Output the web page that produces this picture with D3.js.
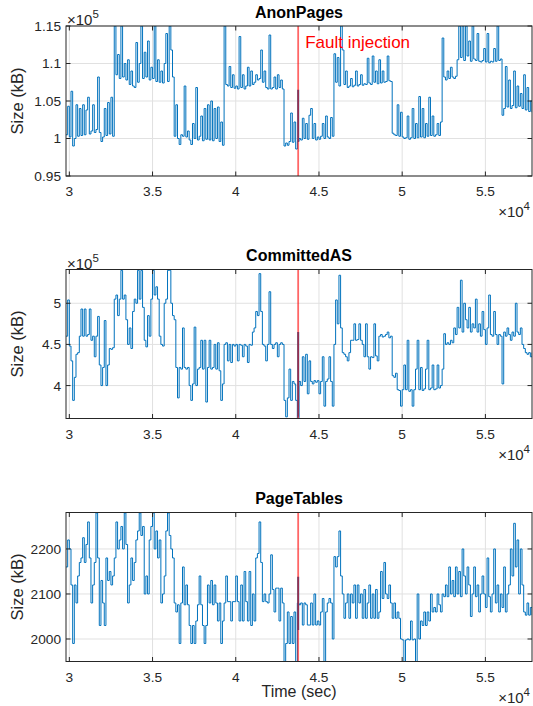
<!DOCTYPE html>
<html>
<head>
<meta charset="utf-8">
<script src="https://cdn.jsdelivr.net/npm/d3@7"></script>
<style>
  body { margin: 0; background: #fff; }
  svg { display: block; font-family: "Liberation Sans", Arial, Helvetica, sans-serif; }
</style>
</head>
<body>
<svg id="chart" width="533" height="706"></svg>
<script>
// ---------------- data ----------------
const tStart = 29800;          // first sample time (sec)
const tStep = 100;             // sample spacing (sec)
const faultTime = 43750;       // fault injection time (sec)

const xTicks = [30000, 35000, 40000, 45000, 50000, 55000];
const xTickLabels = ["3", "3.5", "4", "4.5", "5", "5.5"];

// AnonPages, in units of 10^5 kB
const anonPages = [
  1.005,1.043,1.002,1.063,0.990,1.000,1.045,1.003,1.040,1.004,
  1.045,1.005,1.038,1.055,1.006,1.010,1.045,1.008,1.012,1.082,
  1.008,0.996,1.002,1.040,1.004,1.048,1.006,1.055,1.003,
  1.150,1.085,1.112,1.080,1.150,1.082,1.100,1.078,1.105,1.072,
  1.090,1.070,1.068,1.128,1.075,1.100,1.150,1.080,1.115,1.082,
  1.130,1.078,1.095,1.080,1.150,1.076,1.105,1.075,1.090,1.074,
  1.100,1.140,1.076,1.150,1.118,1.082,
  1.003,1.045,1.000,0.992,1.005,1.003,1.070,1.002,1.010,0.998,
  0.992,1.020,1.000,1.068,0.998,1.003,1.030,0.997,1.040,0.999,
  1.045,0.998,1.050,0.997,1.040,1.000,1.042,0.996,1.022,0.991,
  1.150,1.072,1.070,1.096,1.068,1.085,1.067,1.070,1.066,1.136,
  1.068,1.085,1.066,1.070,1.095,1.070,1.090,1.072,1.075,1.085,
  1.078,1.080,1.118,1.075,1.090,1.068,1.066,1.138,
  1.066,1.068,1.082,1.066,1.085,1.068,1.078,1.066,
  0.990,0.994,0.991,0.996,1.034,0.995,1.022,0.986,0.996,1.000,
  0.998,1.027,1.000,1.020,0.999,1.031,1.040,1.000,1.020,0.998,
  1.002,0.999,1.003,1.020,1.000,1.030,1.002,1.000,1.028,1.003,
  1.113,1.075,1.108,1.070,1.150,1.118,1.072,1.090,1.068,1.070,
  1.080,1.069,1.071,1.090,1.070,1.072,1.085,1.071,1.073,1.072,
  1.107,1.074,1.072,1.110,1.075,1.090,1.073,1.105,1.074,1.090,
  1.075,1.076,1.110,1.077,1.076,
  1.007,1.005,1.004,1.045,1.003,1.035,1.002,1.000,1.001,1.030,
  0.999,1.001,1.040,1.000,1.020,1.001,1.056,1.002,1.040,1.001,
  1.020,1.003,1.055,1.004,1.030,1.003,1.005,1.020,1.004,1.022,1.134,
  1.082,1.078,1.090,1.080,1.095,1.082,1.080,1.083,1.105,1.150,
  1.108,1.150,1.104,1.150,1.110,1.130,1.103,1.150,1.106,1.104,
  1.140,1.103,1.102,1.104,1.120,1.102,1.140,1.101,1.103,1.102,
  1.120,1.103,1.150,1.104,1.106,
  1.031,1.040,1.096,1.042,1.078,1.040,1.044,1.090,1.041,1.070,
  1.043,1.060,1.040,1.085,1.038,1.068,1.036,1.050,1.035
];

// CommittedAS, in units of 10^5 kB
const committedAS = [
  4.60,5.04,4.48,4.30,3.82,4.10,4.38,4.40,4.60,4.93,
  4.60,4.93,4.60,4.62,4.93,4.55,4.60,4.35,4.60,4.84,
  4.25,4.00,4.22,4.79,4.00,4.25,4.45,4.44,4.46,
  5.05,5.10,4.85,5.05,5.40,5.05,5.10,4.80,4.50,4.70,
  4.45,4.90,5.05,5.00,5.40,5.05,5.40,4.95,4.55,4.47,
  4.85,4.60,5.05,5.40,5.10,5.20,5.05,4.60,4.50,4.48,
  5.00,5.05,5.40,5.40,5.00,4.85,4.80,
  4.22,3.85,4.22,4.20,4.70,4.22,4.20,4.22,4.00,3.82,
  4.02,4.71,4.00,4.20,4.22,4.55,4.20,4.55,3.80,4.22,
  4.55,4.20,4.22,4.50,4.20,4.52,4.18,3.82,4.02,
  4.50,4.52,4.30,4.50,4.28,4.50,4.48,4.50,4.30,4.50,
  4.49,4.35,4.50,4.48,4.28,4.50,4.49,4.65,4.70,4.90,
  4.85,5.36,4.90,4.50,4.48,4.30,4.50,5.14,
  4.50,4.45,4.50,4.52,4.35,4.50,4.52,4.50,
  3.82,3.62,3.85,4.20,3.82,4.05,4.02,3.82,3.60,4.05,
  4.00,4.35,4.05,4.38,3.90,4.30,4.05,4.02,4.06,4.04,
  4.06,3.90,4.05,4.35,3.75,4.05,4.08,4.35,4.05,3.75,
  4.50,5.04,4.75,5.34,4.70,4.40,4.38,4.35,4.30,4.40,
  4.55,4.55,4.75,4.55,4.56,4.75,4.55,4.50,4.35,4.75,
  4.35,4.20,4.35,4.34,4.75,4.36,4.30,4.60,4.62,4.59,
  4.60,4.62,4.65,4.58,4.60,
  4.12,4.10,4.15,3.95,3.94,3.75,3.95,4.25,3.95,4.55,
  3.93,3.95,3.75,3.95,4.20,4.55,3.95,4.22,3.94,3.96,
  4.20,4.55,3.95,3.97,4.25,3.95,3.96,4.25,3.97,4.00,4.20,
  4.63,4.50,4.52,4.50,4.55,4.52,4.70,4.62,4.95,4.70,
  5.28,4.65,5.00,4.80,4.70,4.95,4.65,4.75,4.70,5.05,
  4.65,4.75,4.60,4.90,4.68,4.50,4.70,5.10,4.62,4.60,
  4.90,4.62,4.50,4.62,4.60,
  4.02,4.65,4.60,4.70,4.62,4.55,4.65,4.60,5.00,4.65,
  4.62,4.70,4.50,4.45,4.40,4.38,4.40,4.35,4.40
];

// PageTables, in kB
const pageTables = [
  2160,2220,2200,2120,1990,2120,2080,2140,2170,2180,
  2225,2170,2210,2260,2180,2080,2120,2170,2280,2180,
  2030,2130,2080,2030,2180,2130,2150,2120,2140,2180,
  2260,2200,2220,2250,2200,2280,2210,2080,2120,2180,
  2130,2170,2220,2240,2280,2230,2250,2100,2140,2100,
  2220,2250,2280,2200,2240,2180,2220,2080,2100,2140,
  2240,2280,2230,2200,2180,2080,2060,2076,1990,2080,
  2160,2076,2120,2076,2030,1990,2030,1990,2040,2076,
  2140,2076,2030,1990,2030,2120,2080,2130,2076,2120,
  2080,2040,2080,1990,2040,2080,2140,2083,2083,2040,
  2083,2083,2140,2083,2040,2120,2040,2150,2083,2040,
  2150,2030,2100,2040,2180,2190,2260,2170,2083,2100,
  2083,2080,2100,
  2187,2110,2060,2113,2113,2040,2113,2080,
  1950,1990,2060,1990,2050,1990,2060,1950,2080,2076,
  2080,2031,2080,2076,2031,2031,2080,2031,2100,2031,
  2040,2031,2060,2090,1950,2060,2080,2090,2080,2000,
  2183,2160,2183,2240,2140,2100,2046,2080,2100,2046,
  2100,2080,2120,2046,2120,2080,2100,2046,2110,2046,
  2080,2120,2046,2100,2046,2110,2046,2060,2150,2090,
  2170,2100,2090,2120,2080,2046,2080,2046,2060,2046,
  2000,1998,1950,1998,2000,1998,2040,1998,2000,1950,
  2100,2000,2040,2030,2060,2030,2060,2040,2100,2060,
  2070,2060,2100,2076,2060,2100,2094,2120,2094,2160,
  2100,2130,2094,2160,2100,2150,2094,2200,2140,2100,
  2160,2120,2050,2100,2160,2094,2120,2060,2100,2140,
  2100,2070,2180,2094,2060,2100,2200,2080,2120,2060,
  2100,2070,2160,2060,2100,2120,2200,2140,2257,2160,
  2220,2100,2200,2120,2060,2053,2080,2053,2070,2053
];

const anonTicks = [0.95, 1, 1.05, 1.1, 1.15];
const anonTickLabels = ["0.95", "1", "1.05", "1.1", "1.15"];
const committedTicks = [4, 4.5, 5];
const committedTickLabels = ["4", "4.5", "5"];
const pageTicks = [2000, 2100, 2200];
const pageTickLabels = ["2000", "2100", "2200"];

// vertical extent of the trace drawn at the fault instant
const anonFaultSpan = [0.996, 1.065];
const committedFaultSpan = [3.62, 4.65];
const pageFaultSpan = [2020, 2138];

// ---------------- layout ----------------
const svg = d3.select("#chart");
const left = 66, right = 532;
const blue = "#0072BD", ink = "#262626";

const panels = [
  { title: "AnonPages", values: anonPages, domain: [0.95, 1.15], ticks: anonTicks,
    labels: anonTickLabels, exp: "5", fault: anonFaultSpan, top: 26, bottom: 176, note: true },
  { title: "CommittedAS", values: committedAS, domain: [3.6, 5.41], ticks: committedTicks,
    labels: committedTickLabels, exp: "5", fault: committedFaultSpan, top: 269.5, bottom: 418.5 },
  { title: "PageTables", values: pageTables, domain: [1950, 2281], ticks: pageTicks,
    labels: pageTickLabels, exp: null, fault: pageFaultSpan, top: 512.5, bottom: 661.5, xlabel: true }
];

const x = d3.scaleLinear().domain([tStart, tStart + (anonPages.length - 1) * tStep]).range([left, right]);

panels.forEach((p, k) => {
  const y = d3.scaleLinear().domain(p.domain).range([p.bottom, p.top]);
  const g = svg.append("g");

  // grid
  g.append("g").selectAll("line").data(xTicks).join("line")
    .attr("x1", d => x(d)).attr("x2", d => x(d))
    .attr("y1", p.top).attr("y2", p.bottom)
    .attr("stroke", "#e1e1e1").attr("stroke-width", 1);
  g.append("g").selectAll("line").data(p.ticks).join("line")
    .attr("x1", left).attr("x2", right)
    .attr("y1", d => y(d)).attr("y2", d => y(d))
    .attr("stroke", "#e1e1e1").attr("stroke-width", 1);

  // clip
  const clipId = "clip" + k;
  svg.append("clipPath").attr("id", clipId).append("rect")
    .attr("x", left).attr("y", p.top).attr("width", right - left).attr("height", p.bottom - p.top);

  const line = d3.line()
    .x((d, i) => x(tStart + i * tStep))
    .y(d => y(d))
    .curve(d3.curveStepAfter);

  const plot = g.append("g").attr("clip-path", `url(#${clipId})`);
  plot.append("path").datum(p.values)
    .attr("d", line)
    .attr("fill", "none").attr("stroke", blue).attr("stroke-width", 1);

  // trace segment at fault instant
  plot.append("line")
    .attr("x1", x(faultTime)).attr("x2", x(faultTime))
    .attr("y1", y(p.fault[0])).attr("y2", y(p.fault[1]))
    .attr("stroke", blue).attr("stroke-width", 2);

  // fault injection marker
  plot.append("line")
    .attr("x1", x(faultTime)).attr("x2", x(faultTime))
    .attr("y1", p.top).attr("y2", p.bottom)
    .attr("stroke", "#ff0000").attr("stroke-opacity", 0.6).attr("stroke-width", 1.8);

  if (p.note) {
    g.append("text").attr("x", x(faultTime) + 7).attr("y", p.top + 21.5)
      .attr("fill", "#ff0000").attr("font-size", 17).text("Fault injection");
  }

  // axes frame
  const frame = g.append("g").attr("stroke", ink).attr("stroke-width", 1).attr("fill", "none");
  frame.append("rect").attr("x", left).attr("y", p.top)
    .attr("width", right - left).attr("height", p.bottom - p.top);

  // ticks (inward, all four sides)
  const tl = 4.5;
  xTicks.forEach(t => {
    frame.append("line").attr("x1", x(t)).attr("x2", x(t)).attr("y1", p.bottom).attr("y2", p.bottom - tl);
    frame.append("line").attr("x1", x(t)).attr("x2", x(t)).attr("y1", p.top).attr("y2", p.top + tl);
  });
  p.ticks.forEach(t => {
    frame.append("line").attr("x1", left).attr("x2", left + tl).attr("y1", y(t)).attr("y2", y(t));
    frame.append("line").attr("x1", right).attr("x2", right - tl).attr("y1", y(t)).attr("y2", y(t));
  });

  // tick labels
  g.append("g").selectAll("text").data(xTicks).join("text")
    .attr("x", d => x(d)).attr("y", p.bottom + 20)
    .attr("text-anchor", "middle").attr("font-size", 13.7).attr("fill", ink)
    .text((d, i) => xTickLabels[i]);
  g.append("g").selectAll("text").data(p.ticks).join("text")
    .attr("x", left - 5).attr("y", d => y(d)).attr("dy", "0.36em")
    .attr("text-anchor", "end").attr("font-size", 13.7).attr("fill", ink)
    .text((d, i) => p.labels[i]);

  // x exponent
  const ex = g.append("text").attr("x", 530).attr("y", p.bottom + 41)
    .attr("text-anchor", "end").attr("font-size", 15).attr("fill", ink);
  ex.append("tspan").text("\u00d710");
  ex.append("tspan").attr("font-size", 11.5).attr("dy", -7).text("4");

  // y exponent
  if (p.exp) {
    const ey = g.append("text").attr("x", left + 1).attr("y", p.top - 1)
      .attr("font-size", 15).attr("fill", ink);
    ey.append("tspan").text("\u00d710");
    ey.append("tspan").attr("font-size", 11.5).attr("dy", -7).text(p.exp);
  }

  // title
  g.append("text").attr("x", (left + right) / 2).attr("y", p.top - 8.5)
    .attr("text-anchor", "middle").attr("font-size", 16).attr("font-weight", "bold")
    .attr("fill", "#000").text(p.title);

  // y label
  g.append("text")
    .attr("transform", `translate(23,${(p.top + p.bottom) / 2}) rotate(-90)`)
    .attr("text-anchor", "middle").attr("font-size", 16.5).attr("fill", ink)
    .text("Size (kB)");

  if (p.xlabel) {
    g.append("text").attr("x", (left + right) / 2).attr("y", p.bottom + 35.5)
      .attr("text-anchor", "middle").attr("font-size", 16).attr("fill", ink)
      .text("Time (sec)");
  }
});
</script>
</body>
</html>
